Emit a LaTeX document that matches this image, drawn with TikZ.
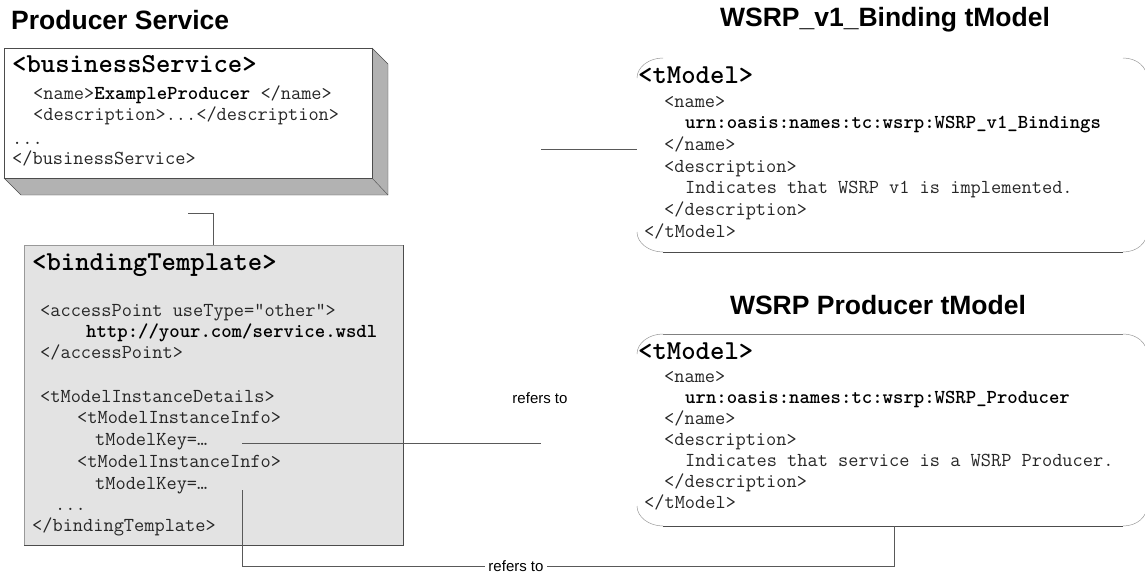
\documentclass[tikz,border=0pt]{standalone}
\usepackage{fontspec}
\setmainfont{Liberation Sans}
\usetikzlibrary{calc}

\tikzset{
  xml/.style={anchor=west, inner sep=0pt, text height=0.62em, text depth=0.2em,
    font=\ttfamily\fontsize{19.8}{21}\selectfont, text=black!85},
  xmlhead/.style={xml, font=\ttfamily\bfseries\fontsize{27.4}{30}\selectfont, text=black},
  heading/.style={inner sep=0pt, font=\bfseries\fontsize{26.5}{30}\selectfont},
  link/.style={draw=black!65, line width=0.9pt},
  corner/.style={draw=black!40, line width=0.5pt},
  refnote/.style={inner sep=3pt, fill=white, font=\fontsize{15}{18}\selectfont}
}
\newcommand\hl[1]{\textbf{\color{black}#1}}

\begin{document}
\begin{tikzpicture}[x=1pt, y=-1pt]
  \useasboundingbox (0,0) rectangle (1145,573);

  % producer service
  \node[heading, anchor=west] (psTitle) at (11,20) {Producer Service};
  \fill[black!30] (372,48) -- (388,64) -- (388,195) -- (21,195) -- (4,178) -- (372,178) -- cycle;
  \draw[black!70] (372,48) -- (388,64) -- (388,195) -- (21,195) -- (4,178);
  \draw[black!70] (372,178) -- (388,195);
  \draw[black!70, fill=white] (4,48) rectangle (372,178);
  \node[xmlhead] (bsHead) at (12,70) {<businessService>};
  \node[xml] (bsName) at (33,97) {<name>\hl{ExampleProducer} </name>};
  \node[xml] (bsDesc) at (33,118) {<description>...</description>};
  \node[xml] (bsDots) at (12,142) {...};
  \node[xml] (bsEnd) at (12,162) {</businessService>};

  % binding template
  \draw[fill=black!11, draw=black!40] (24,245) rectangle (403,545);
  \draw[black!70, line width=1pt] (24,545) -- (403,545) -- (403,245);
  \node[xmlhead] (btHead) at (32,268) {<bindingTemplate>};
  \node[xml] (btAccess) at (40,314) {<accessPoint useType="other">};
  \node[xml] (btUrl) at (86,335) {\hl{http://your.com/service.wsdl}};
  \node[xml] (btAccessEnd) at (40,356) {</accessPoint>};
  \node[xml] (btDetails) at (40,400) {<tModelInstanceDetails>};
  \node[xml] (btInfoA) at (77,421) {<tModelInstanceInfo>};
  \node[xml] (btKeyA) at (95,443) {tModelKey=…};
  \node[xml] (btInfoB) at (77,465) {<tModelInstanceInfo>};
  \node[xml] (btKeyB) at (95,487) {tModelKey=…};
  \node[xml] (btDots) at (55,508) {...};
  \node[xml] (btEnd) at (32,529) {</bindingTemplate>};

  % binding tModel
  \node[heading] (tmaTitle) at (885,20) {WSRP\_v1\_Binding tModel};
  \draw[corner] (637,78) .. controls (637,67) and (649,58) .. (663,58);
  \draw[corner] (1123,58) .. controls (1137,58) and (1147,67) .. (1147,78);
  \draw[corner] (637,232) .. controls (637,243) and (649,252) .. (663,252);
  \draw[corner] (1123,252) .. controls (1137,252) and (1147,243) .. (1147,232);
  \draw[black!70, line width=0.9pt] (663,252) -- (1123,252);
  \node[xmlhead] (tmaHead) at (638,81) {<tModel>};
  \node[xml] (tmaName) at (664,105) {<name>};
  \node[xml] (tmaUrn) at (685,126) {\hl{urn:oasis:names:tc:wsrp:WSRP\_v1\_Bindings}};
  \node[xml] (tmaNameEnd) at (664,148) {</name>};
  \node[xml] (tmaDesc) at (664,170) {<description>};
  \node[xml] (tmaText) at (685,191) {Indicates that WSRP v1 is implemented.};
  \node[xml] (tmaDescEnd) at (664,213) {</description>};
  \node[xml] (tmaEnd) at (644,235) {</tModel>};

  % producer tModel
  \node[heading] (tmbTitle) at (878,305) {WSRP Producer tModel};
  \draw[corner] (637,354) .. controls (637,343) and (649,334) .. (663,334);
  \draw[corner] (1123,334) .. controls (1137,334) and (1147,343) .. (1147,354);
  \draw[corner] (637,506) .. controls (637,517) and (649,526) .. (663,526);
  \draw[corner] (1123,526) .. controls (1137,526) and (1147,517) .. (1147,506);
  \draw[black!50, line width=0.6pt] (663,334) -- (1123,334);
  \draw[black!70, line width=0.9pt] (663,526) -- (1123,526);
  \node[xmlhead] (tmbHead) at (638,357) {<tModel>};
  \node[xml] (tmbName) at (664,380) {<name>};
  \node[xml] (tmbUrn) at (685,401) {\hl{urn:oasis:names:tc:wsrp:WSRP\_Producer}};
  \node[xml] (tmbNameEnd) at (664,422) {</name>};
  \node[xml] (tmbDesc) at (664,443) {<description>};
  \node[xml] (tmbText) at (685,464) {Indicates that service is a WSRP Producer.};
  \node[xml] (tmbDescEnd) at (664,485) {</description>};
  \node[xml] (tmbEnd) at (644,506) {</tModel>};

  % connectors
  \coordinate (bsOut) at (188,213);
  \coordinate (btIn) at (213,245);
  \coordinate (tmaIn) at (637,149);
  \coordinate (tmaOut) at (541,149);
  \coordinate (keyAOut) at (242,443);
  \coordinate (keyAEnd) at (541,443);
  \coordinate (keyBOut) at (242,490);
  \coordinate (tmbIn) at (894,526);
  \draw[link] (bsOut) -| (btIn);
  \draw[link] (tmaOut) -- (tmaIn);
  \draw[link] (keyAOut) -- (keyAEnd);
  \draw[link] (keyBOut) |- ($(tmbIn)+(0,40)$) -- (tmbIn);
  \node[refnote] (refMid) at (540,398) {refers to};
  \node[refnote] (refLow) at (516,566) {refers to};
\end{tikzpicture}
\end{document}
